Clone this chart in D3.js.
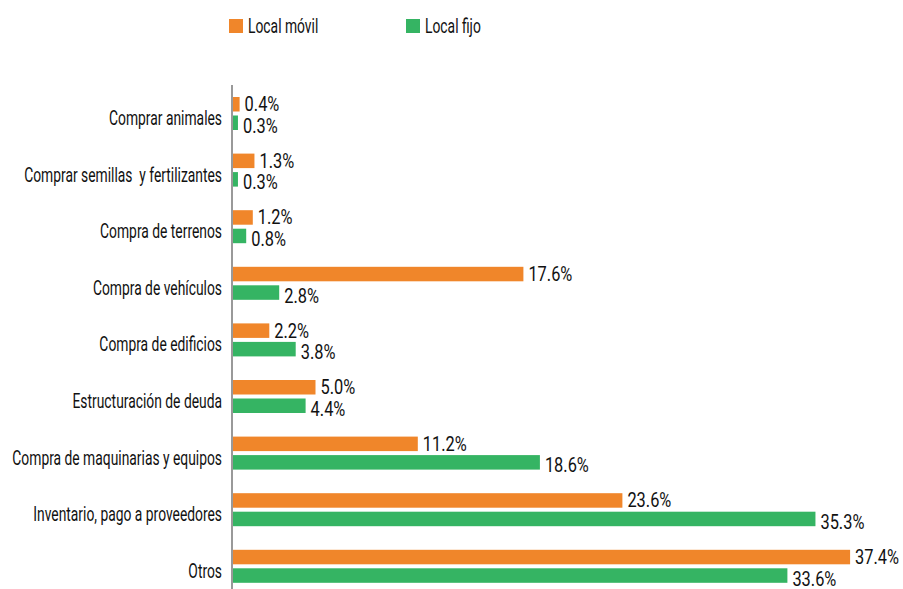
<!DOCTYPE html>
<html>
<head>
<meta charset="utf-8">
<script src="https://cdn.jsdelivr.net/npm/d3@7"></script>
<style>
  body { margin: 0; background: #fff; }
  text { font-family: Roboto, "DejaVu Sans", sans-serif; fill: #111; }
</style>
</head>
<body>
<div id="chart"></div>
<script>
  // data
  var categories = [
    "Comprar animales",
    "Comprar semillas  y fertilizantes",
    "Compra de terrenos",
    "Compra de vehículos",
    "Compra de edificios",
    "Estructuración de deuda",
    "Compra de maquinarias y equipos",
    "Inventario, pago a proveedores",
    "Otros"
  ];
  var seriesNames = ["Local móvil", "Local fijo"];
  var movil = [0.4, 1.3, 1.2, 17.6, 2.2, 5.0, 11.2, 23.6, 37.4];
  var fijo = [0.3, 0.3, 0.8, 2.8, 3.8, 4.4, 18.6, 35.3, 33.6];
  var colors = ["#F0862A", "#35B463"];

  var width = 903, height = 589;
  var fontSize = 19.5;

  var svg = d3.select("#chart").append("svg")
    .attr("width", width)
    .attr("height", height);

  // the reference uses a condensed face, so squeeze text horizontally
  function squeeze(sample, target) {
    var probe = svg.append("text").style("font-size", fontSize + "px").text(sample);
    var w = probe.node().getComputedTextLength();
    probe.remove();
    return target / w;
  }
  var kLabel = squeeze("Comprar animales", 113);
  var kValue = squeeze("37.4%", 44);

  function place(sel, k, fx, fy) {
    sel.attr("transform", function (d, i) {
      return "translate(" + fx(d, i) + "," + fy(d, i) + ") scale(" + k + ",1)";
    });
  }

  var x = d3.scaleLinear()
    .domain([0, 40])
    .range([233, 893]);

  var y = d3.scaleBand()
    .domain(categories)
    .range([92, 92 + 9 * 56.6]);

  var inner = d3.scaleBand()
    .domain(seriesNames)
    .range([5, 38])
    .paddingInner(0.216);

  var rows = categories.map(function (c, i) {
    return { cat: c, values: [movil[i], fijo[i]] };
  });

  var g = svg.selectAll(".row")
    .data(rows)
    .enter().append("g")
    .attr("class", "row")
    .attr("transform", function (d) { return "translate(0," + y(d.cat) + ")"; });

  g.selectAll("rect")
    .data(function (d) { return d.values; })
    .enter().append("rect")
    .attr("x", x(0))
    .attr("y", function (d, i) { return inner(seriesNames[i]); })
    .attr("width", function (d) { return x(d) - x(0); })
    .attr("height", inner.bandwidth())
    .attr("fill", function (d, i) { return colors[i]; });

  g.selectAll(".val")
    .data(function (d) { return d.values; })
    .enter().append("text")
    .attr("class", "val")
    .attr("dominant-baseline", "central")
    .style("font-size", fontSize + "px")
    .text(function (d) { return d.toFixed(1) + "%"; })
    .call(place, kValue,
      function (d) { return x(d) + 5; },
      function (d, i) { return inner(seriesNames[i]) + inner.bandwidth() / 2 + (i ? 3 : 0); });

  g.append("text")
    .attr("text-anchor", "end")
    .attr("dominant-baseline", "central")
    .attr("xml:space", "preserve")
    .style("font-size", fontSize + "px")
    .text(function (d) { return d.cat; })
    .call(place, kLabel, function () { return 222; }, function () { return 26; });

  // vertical axis line
  svg.append("line")
    .attr("x1", x(0) - 1).attr("x2", x(0) - 1)
    .attr("y1", 85).attr("y2", 595)
    .attr("stroke", "#999")
    .attr("stroke-width", 2);

  // legend
  var legendX = [229, 406];
  var leg = svg.selectAll(".legend")
    .data(seriesNames)
    .enter().append("g")
    .attr("class", "legend")
    .attr("transform", function (d, i) { return "translate(" + legendX[i] + ",19)"; });

  leg.append("rect")
    .attr("width", 14).attr("height", 14)
    .attr("fill", function (d, i) { return colors[i]; });

  leg.append("text")
    .attr("dominant-baseline", "central")
    .style("font-size", fontSize + "px")
    .text(function (d) { return d; })
    .call(place, kLabel, function () { return 19; }, function () { return 7; });
</script>
</body>
</html>
